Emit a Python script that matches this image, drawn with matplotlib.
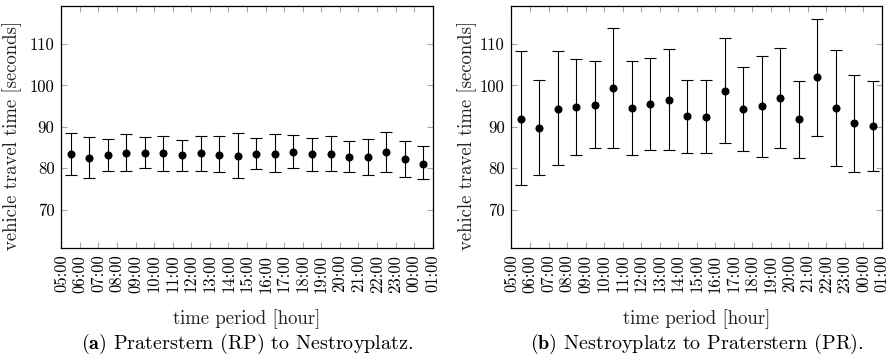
import matplotlib
matplotlib.use("Agg")
import matplotlib.pyplot as plt
import numpy as np

plt.rcParams['font.family'] = ['cmr10', 'DejaVu Serif']
plt.rcParams['mathtext.fontset'] = 'cm'
plt.rcParams['axes.formatter.use_mathtext'] = True

hours = ["05:00", "06:00", "07:00", "08:00", "09:00", "10:00", "11:00", "12:00",
         "13:00", "14:00", "15:00", "16:00", "17:00", "18:00", "19:00", "20:00",
         "21:00", "22:00", "23:00", "00:00", "01:00"]

# Panel (a): Praterstern (RP) to Nestroyplatz
a_mean = [83.4, 82.6, 83.1, 83.8, 83.8, 83.7, 83.1, 83.7, 83.3, 83.0,
          83.4, 83.4, 84.0, 83.4, 83.5, 82.7, 82.7, 83.9, 82.3, 81.1]
a_upper = [88.6, 87.6, 87.0, 88.2, 87.5, 87.9, 86.8, 87.8, 87.8, 88.5,
           87.4, 88.2, 88.0, 87.4, 87.8, 86.5, 87.0, 88.7, 86.6, 85.3]
a_lower = [78.5, 77.7, 79.3, 79.3, 80.1, 79.4, 79.3, 79.4, 79.0, 77.6,
           79.8, 79.0, 80.0, 79.4, 79.4, 79.0, 78.4, 79.1, 78.0, 77.4]

# Panel (b): Nestroyplatz to Praterstern (PR)
b_mean = [92.0, 89.8, 94.3, 94.8, 95.3, 99.4, 94.5, 95.4, 96.6, 92.6,
          92.4, 98.7, 94.3, 95.0, 96.9, 91.8, 102.0, 94.5, 90.9, 90.2]
b_upper = [108.3, 101.3, 108.2, 106.4, 105.9, 113.9, 105.8, 106.5, 108.8, 101.4,
           101.2, 111.4, 104.5, 107.2, 109.0, 101.1, 116.1, 108.6, 102.6, 101.0]
b_lower = [75.9, 78.4, 80.7, 83.3, 84.8, 85.0, 83.3, 84.4, 84.5, 83.8,
           83.8, 86.0, 84.2, 82.8, 85.0, 82.4, 87.8, 80.6, 79.0, 79.4]

y_ticks = [70, 80, 90, 100, 110]
captions = [r"$\mathbf{(a)}$ Praterstern (RP) to Nestroyplatz.",
            r"$\mathbf{(b)}$ Nestroyplatz to Praterstern (PR)."]

fig = plt.figure(figsize=(8.9, 3.64), dpi=100)
ax_a = fig.add_axes([0.0689, 0.3195, 0.4173, 0.664])
ax_b = fig.add_axes([0.5747, 0.3195, 0.4163, 0.664])

panels = [(ax_a, a_mean, a_upper, a_lower, captions[0], -0.106),
          (ax_b, b_mean, b_upper, b_lower, captions[1], -0.093)]

for ax, mean, up, lo, cap, ylx in panels:
    mean = np.array(mean)
    up = np.array(up)
    lo = np.array(lo)
    x = np.arange(len(mean)) + 0.5
    ax.errorbar(x, mean, yerr=[mean - lo, up - mean], fmt='o', color='black',
                markersize=4.8, capsize=4, elinewidth=0.8, capthick=0.8)
    ax.set_xlim(0, 20)
    ax.set_ylim(60.84, 119.16)
    ax.set_xticks(np.arange(len(hours)))
    ax.set_xticklabels(hours, rotation=90, fontsize=12)
    ax.set_yticks(y_ticks)
    ax.set_yticklabels([str(v) for v in y_ticks], fontsize=12)
    ax.tick_params(direction='in', length=4.3, width=0.8, color='#a8a8a8',
                   top=True, right=True, pad=5)
    for sp in ax.spines.values():
        sp.set_linewidth(0.9)
        sp.set_color('black')
    ax.set_xlabel("time period [hour]", fontsize=13.5, color='#222222')
    ax.set_ylabel("vehicle travel time [seconds]", fontsize=13.5, color='#222222')
    ax.yaxis.set_label_coords(ylx, 0.465)
    ax.xaxis.set_label_coords(0.5, -0.255)
    pos = ax.get_position()
    fig.text(pos.x0 + pos.width / 2, 0.055, cap, ha='center', va='center', fontsize=14.5)

fig.savefig("out.png", dpi=100)
